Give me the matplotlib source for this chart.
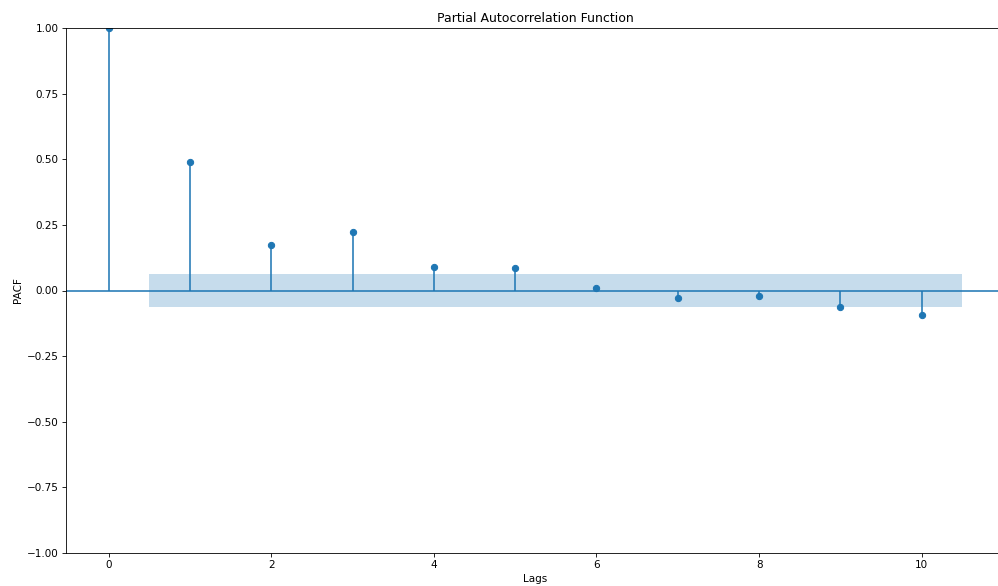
import numpy as np
import matplotlib
matplotlib.use("Agg")
import matplotlib.pyplot as plt

lags = [0, 1, 2, 3, 4, 5, 6, 7, 8, 9, 10]
pacf_vals = [1.0, 0.489, 0.173, 0.224, 0.088, 0.085, 0.008, -0.029, -0.020, -0.064, -0.094]
conf_half = 0.062

DPI = 75
fig = plt.figure(figsize=(998/DPI, 586/DPI), dpi=DPI)
ax = fig.add_axes([66/998, 33/586, (1005-66)/998, (553-28)/586])

lags_arr = np.array(lags, dtype=float)
vals = np.array(pacf_vals)
ax.vlines(lags_arr, [0], vals, color="C0")
ax.plot(lags_arr, vals, "o", color="C0", markersize=6)
ax.axhline(0, color="C0")

band_x = lags_arr[1:].copy()
band_x[0] -= 0.5
band_x[-1] += 0.5
ax.fill_between(band_x, -conf_half, conf_half, alpha=0.25, linewidth=0, color="C0")
ax.set_xlim(-0.525, 11.025)
ax.set_ylim(-1.0, 1.0)
ax.set_title("Partial Autocorrelation Function")
ax.set_xlabel("Lags")
ax.set_ylabel("PACF")
fig.savefig("out.png", dpi=DPI)
